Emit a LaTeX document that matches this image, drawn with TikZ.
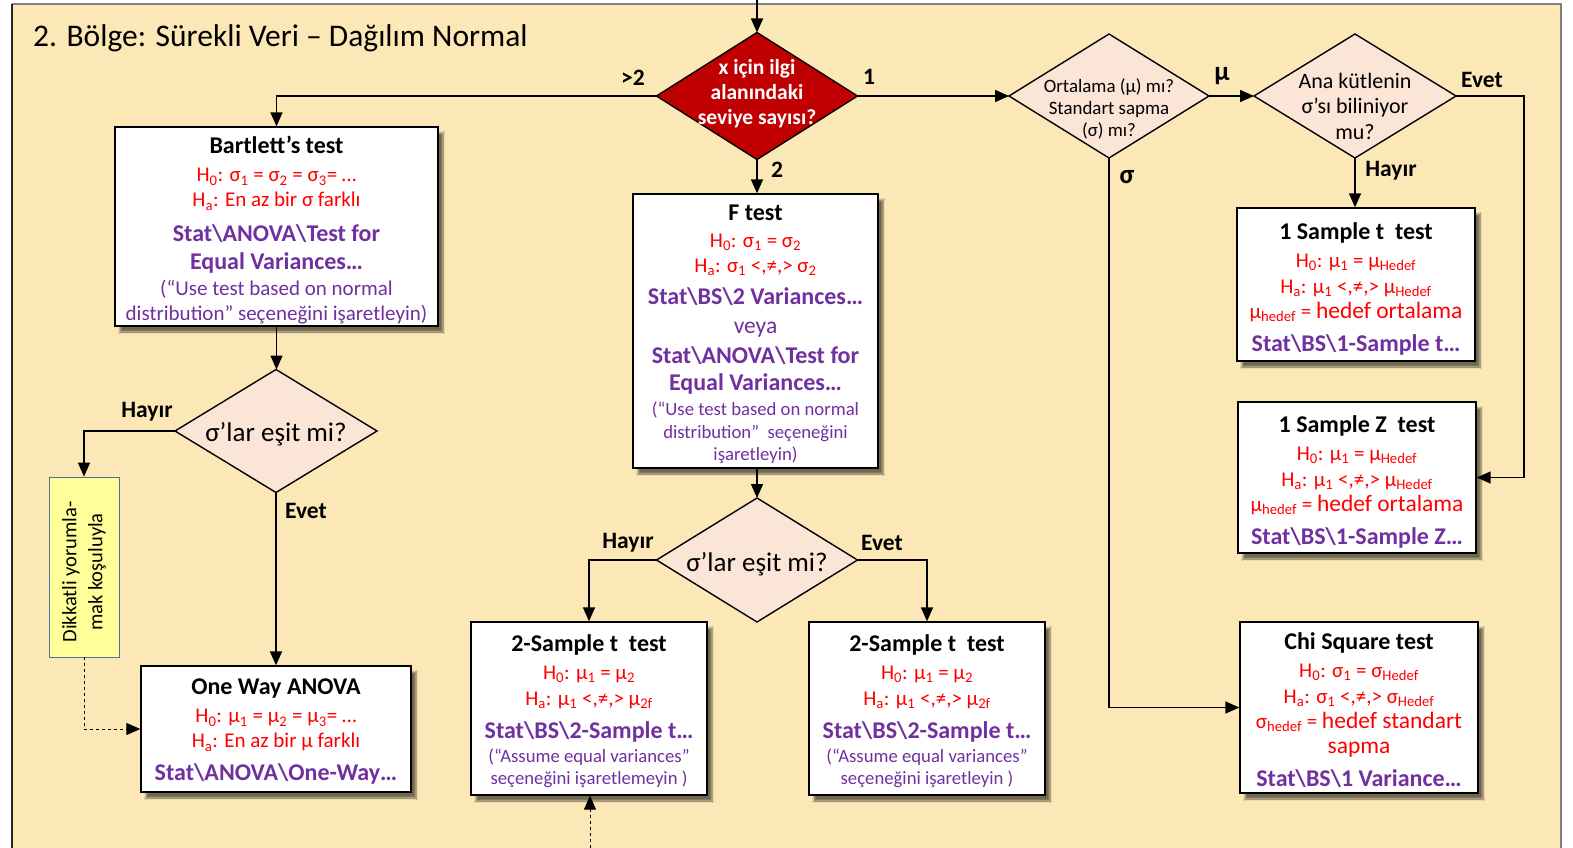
\documentclass[tikz,border=0pt]{standalone}
\usepackage{fontspec}
\setmainfont{Carlito}
\usetikzlibrary{arrows.meta,shapes.geometric,shadows.blur}
\definecolor{bgc}{RGB}{252,232,182}
\definecolor{dred}{RGB}{192,0,0}
\definecolor{pinkf}{RGB}{251,229,214}
\definecolor{purp}{RGB}{112,48,160}
\definecolor{redt}{RGB}{255,0,0}
\definecolor{yelf}{RGB}{255,255,153}
\definecolor{yeld}{RGB}{80,110,160}
\newcommand\bxT[1]{{\fontsize{24}{27}\selectfont\bfseries #1}}
\newcommand\bxR[1]{{\fontsize{21}{24}\selectfont\color{redt}#1}}
\newcommand\bxP[1]{{\fontsize{24}{27}\selectfont\bfseries\color{purp}#1}}
\newcommand\bxS[1]{{\fontsize{21}{24}\selectfont\color{purp}#1}}
\newcommand\bxSs[1]{{\fontsize{18.7}{22}\selectfont\color{purp}#1}}
\newcommand\bxH[1]{{\fontsize{23.5}{26}\selectfont #1}}
\newcommand\bs{\textbackslash}
\newcommand\sbs[1]{\textsubscript{#1}}
\tikzset{
  box/.style={draw=black, line width=1.3pt, fill=white, rectangle, inner sep=0pt,
    blur shadow={shadow xshift=5pt, shadow yshift=-6pt, shadow blur steps=6, shadow opacity=55}},
  btxt/.style={align=center, inner sep=0pt, font=\fontsize{21}{25}\selectfont},
  dia/.style={draw=black, line width=1.4pt, diamond, inner sep=0pt, outer sep=0pt},
  dtext/.style={align=center, inner sep=0pt},
  lbl/.style={font=\fontsize{23.5}{26}\selectfont\bfseries, inner sep=0pt},
  arr/.style={line width=1.4pt, -{Triangle[length=14pt,width=12pt]}},
  ln/.style={line width=1.4pt}
}
\begin{document}
\begin{tikzpicture}[x=1pt,y=-1pt]
\useasboundingbox (0,0) rectangle (1573,848);
\fill[white] (0,0) rectangle (1573,848);
\fill[bgc] (12,4) rectangle (1561,848);
\draw[black!50, line width=2pt] (1561,848) -- (1561,4) -- (12,4);
\draw[black!85, line width=1.5pt] (12,4) -- (12,848);

\node[anchor=base west, inner sep=0pt, font=\fontsize{31.5}{36}\selectfont] (title) at (33,47) {2. Bölge: Sürekli Veri – Dağılım Normal};

% diamonds
\node[dia, fill=dred, minimum width=201pt, minimum height=127pt] (red) at (757,96) {};
\node[dtext, text=white, font=\fontsize{21.5}{25}\selectfont\bfseries, yshift=2pt] (redt) at (red.center) {x için ilgi\\alanındaki\\seviye sayısı?};

\node[dia, fill=pinkf, minimum width=200pt, minimum height=124pt] (ort) at (1109,96) {};
\node[dtext, font=\fontsize{18.9}{22}\selectfont, yshift=-13pt] (ortt) at (ort.center) {Ortalama (μ) mı?\\Standart sapma\\(σ) mı?};

\node[dia, fill=pinkf, minimum width=202pt, minimum height=124pt] (ana) at (1355,96) {};
\node[dtext, font=\fontsize{22}{25.5}\selectfont, yshift=-10pt] (anat) at (ana.center) {Ana kütlenin\\σ’sı biliniyor\\mu?};

\node[dia, fill=pinkf, minimum width=202pt, minimum height=123pt] (dl) at (276,431) {};
\node[dtext, font=\fontsize{27}{30}\selectfont, yshift=-3pt] (dlt) at (dl.center) {σ’lar eşit mi?};

\node[dia, fill=pinkf, minimum width=201pt, minimum height=124pt] (dc) at (757,560) {};
\node[dtext, font=\fontsize{27}{30}\selectfont, yshift=-4pt] (dct) at (dc.center) {σ’lar eşit mi?};

% boxes
\node[box, minimum width=323pt, minimum height=199pt] (bart) at (276.5,226.5) {};
\node[btxt, yshift=-4pt] (bartx) at (bart.center) {%
\bxT{Bartlett’s test}\\[3pt]
\bxR{H\sbs{0}: σ\sbs{1} = σ\sbs{2} = σ\sbs{3}= …}\\
\bxR{H\sbs{a}: En az bir σ farklı}\\[10pt]
\bxP{Stat\bs ANOVA\bs Test for}\\[3pt]
\bxP{Equal Variances…}\\[1pt]
\bxS{(“Use test based on normal}\\
\bxS{distribution” seçeneğini işaretleyin)}};

\node[box, minimum width=245pt, minimum height=274pt] (ftest) at (755.5,331) {};
\node[btxt, yshift=-3pt] (ftestx) at (ftest.center) {%
\bxT{F test}\\[2pt]
\bxR{H\sbs{0}: σ\sbs{1} = σ\sbs{2}}\\
\bxR{H\sbs{a}: σ\sbs{1} <,≠,> σ\sbs{2}}\\[7pt]
\bxP{Stat\bs BS\bs 2 Variances…}\\[4pt]
\bxS{\fontsize{23.5}{26}\selectfont veya}\\[5pt]
\bxP{Stat\bs ANOVA\bs Test for}\\[2pt]
\bxP{Equal Variances…}\\[0pt]
\bxSs{(“Use test based on normal}\\[-2pt]
\bxSs{distribution”\ \ seçeneğini}\\[-3pt]
\bxSs{işaretleyin)}};

\node[box, minimum width=238pt, minimum height=153pt] (t1) at (1356,284.5) {};
\node[btxt, yshift=-4pt] (t1x) at (t1.center) {%
\bxT{1 Sample t\ \ test}\\[3pt]
\bxR{H\sbs{0}: μ\sbs{1} = μ\sbs{Hedef}}\\[1pt]
\bxR{H\sbs{a}: μ\sbs{1} <,≠,> μ\sbs{Hedef}}\\
\bxR{μ\sbs{hedef} = \bxH{hedef ortalama}}\\[8pt]
\bxP{Stat\bs BS\bs 1-Sample t…}};

\node[box, minimum width=238pt, minimum height=151pt] (z1) at (1357,477.5) {};
\node[btxt, yshift=-4pt] (z1x) at (z1.center) {%
\bxT{1 Sample Z\ \ test}\\[3pt]
\bxR{H\sbs{0}: μ\sbs{1} = μ\sbs{Hedef}}\\[1pt]
\bxR{H\sbs{a}: μ\sbs{1} <,≠,> μ\sbs{Hedef}}\\
\bxR{μ\sbs{hedef} = \bxH{hedef ortalama}}\\[8pt]
\bxP{Stat\bs BS\bs 1-Sample Z…}};

\node[box, minimum width=238pt, minimum height=171pt] (chi) at (1359,707.5) {};
\node[btxt, yshift=-3pt] (chix) at (chi.center) {%
\bxT{Chi Square test}\\[3pt]
\bxR{H\sbs{0}: σ\sbs{1} = σ\sbs{Hedef}}\\[1pt]
\bxR{H\sbs{a}: σ\sbs{1} <,≠,> σ\sbs{Hedef}}\\
\bxR{σ\sbs{hedef} = \bxH{hedef standart}}\\
\bxR{\bxH{sapma}}\\[8pt]
\bxP{Stat\bs BS\bs 1 Variance…}};

\node[box, minimum width=270pt, minimum height=126pt] (anova) at (276,729) {};
\node[btxt, yshift=-3pt] (anovax) at (anova.center) {%
\bxT{One Way ANOVA}\\[3pt]
\bxR{H\sbs{0}: μ\sbs{1} = μ\sbs{2} = μ\sbs{3}= …}\\
\bxR{H\sbs{a}: En az bir μ farklı}\\[8pt]
\bxP{Stat\bs ANOVA\bs One-Way…}};

\node[box, minimum width=236pt, minimum height=173pt] (s2a) at (589,708.5) {};
\node[btxt, yshift=-3pt] (s2ax) at (s2a.center) {%
\bxT{2-Sample t\ \ test}\\[3pt]
\bxR{H\sbs{0}: μ\sbs{1} = μ\sbs{2}}\\[1pt]
\bxR{H\sbs{a}: μ\sbs{1} <,≠,> μ\sbs{2f}}\\[8pt]
\bxP{Stat\bs BS\bs 2-Sample t…}\\[-1pt]
\bxSs{(“Assume equal variances”}\\[-3pt]
\bxSs{seçeneğini işaretlemeyin )}};

\node[box, minimum width=236pt, minimum height=173pt] (s2b) at (927,708.5) {};
\node[btxt, yshift=-3pt] (s2bx) at (s2b.center) {%
\bxT{2-Sample t\ \ test}\\[3pt]
\bxR{H\sbs{0}: μ\sbs{1} = μ\sbs{2}}\\[1pt]
\bxR{H\sbs{a}: μ\sbs{1} <,≠,> μ\sbs{2f}}\\[8pt]
\bxP{Stat\bs BS\bs 2-Sample t…}\\[-1pt]
\bxSs{(“Assume equal variances”}\\[-3pt]
\bxSs{seçeneğini işaretleyin )}};

\node[draw=yeld, line width=0.8pt, fill=yelf, minimum width=70pt, minimum height=180pt, inner sep=0pt] (yel) at (84,567) {};
\node[rotate=90, align=center, inner sep=0pt, font=\fontsize{20.5}{26}\selectfont, xshift=-5pt] (yelt) at (yel.center) {Dikkatli yorumla-\\mak koşuluyla};

% coordinates
\coordinate (top) at (757,0);
\coordinate (ev) at (1524,96);
\coordinate (bot) at (590,848);

% connectors
\draw[arr] (top) -- (red.north);
\draw[arr] (red.west) -| (bart.north);
\draw[arr] (red.east) -- (ort.west);
\draw[arr] (red.south) -- (red.south |- ftest.north);
\draw[arr] (ftest.south -| dc.north) -- (dc.north);
\draw[arr] (dc.west) -| (s2a.north);
\draw[arr] (dc.east) -| (s2b.north);
\draw[arr] (ort.east) -- (ana.west);
\draw[arr] (ana.south) -- (ana.south |- t1.north);
\draw[arr] (ana.east) -- (ev) |- (z1.east);
\draw[arr] (ort.south) |- (chi.west);
\draw[arr] (bart.south) -- (bart.south |- dl.north);
\draw[arr] (dl.west) -| (yel.north);
\draw[arr] (dl.south) -- (dl.south |- anova.north);
\draw[arr, dashed, line width=1pt] (yel.south) |- (anova.west);
\draw[arr, dashed, line width=1pt] (bot) -- (bot |- s2a.south);

% labels
\node[lbl] (l1) at (633,78) {>2};
\node[lbl] (l2) at (869,77) {1};
\node[lbl] (l3) at (777,170) {2};
\node[lbl, font=\fontsize{27}{30}\selectfont\bfseries] (l4) at (1222,76) {μ};
\node[lbl] (l5) at (1482,80) {Evet};
\node[lbl] (l6) at (1391,171) {Hayır};
\node[lbl, font=\fontsize{27}{30}\selectfont\bfseries] (l7) at (1127,177) {σ};
\node[lbl] (l8) at (147,412) {Hayır};
\node[lbl] (l9) at (306,511) {Evet};
\node[lbl] (l10) at (628,543) {Hayır};
\node[lbl] (l11) at (882,543) {Evet};
\end{tikzpicture}
\end{document}
